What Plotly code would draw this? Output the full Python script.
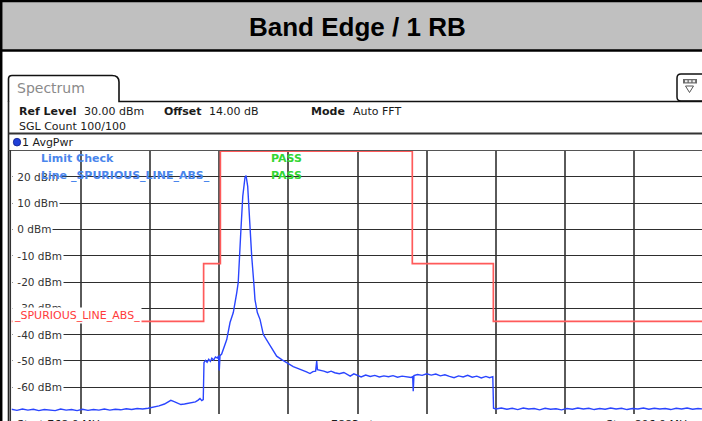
import plotly.graph_objects as go

W, H = 702, 421

# ---------------- data ----------------
start_mhz = 768.0
stop_mhz = 806.0
n_points_label = "7883 pts"

trace_freq_mhz = [
    768.0, 768.3, 768.6, 768.9, 769.2, 769.5, 769.8, 770.1, 770.4, 770.7,
    771.0, 771.3, 771.6, 771.9, 772.2, 772.5, 772.8, 773.1, 773.4, 773.7,
    774.0, 774.3, 774.6, 774.9, 775.2, 775.5, 775.8, 776.1, 776.4, 776.6,
    776.75, 776.9, 777.1, 777.3, 777.5, 777.7, 777.9, 778.1, 778.25, 778.35,
    778.45, 778.53, 778.57, 778.65, 778.74, 778.83, 778.92, 779.0, 779.1, 779.2,
    779.3, 779.37, 779.41, 779.45, 779.54, 779.68, 779.82, 780.0, 780.18, 780.37,
    780.45, 780.59, 780.70, 780.82, 780.88, 780.97, 781.06, 781.19, 781.32, 781.37,
    781.50, 781.65, 781.83, 782.05, 782.29, 782.56, 782.84, 783.11, 783.47, 783.75,
    784.02, 784.2, 784.39, 784.55, 784.7, 784.76, 784.8, 784.94, 785.15, 785.35,
    785.55, 785.75, 786.0, 786.25, 786.45, 786.6, 786.8, 787.0, 787.2, 787.45,
    787.7, 787.95, 788.2, 788.45, 788.7, 788.95, 789.2, 789.45, 789.7, 789.95,
    790.03, 790.06, 790.1, 790.3, 790.55, 790.8, 791.05, 791.3, 791.55, 791.8,
    792.05, 792.3, 792.55, 792.8, 793.05, 793.3, 793.55, 793.8, 794.05, 794.25,
    794.43, 794.47, 794.6, 794.9, 795.2, 795.5, 795.8, 796.1, 796.4, 796.7,
    797.0, 797.3, 797.6, 797.9, 798.2, 798.5, 798.8, 799.1, 799.4, 799.7,
    800.0, 800.3, 800.6, 800.9, 801.2, 801.5, 801.8, 802.1, 802.4, 802.7,
    803.0, 803.3, 803.6, 803.9, 804.2, 804.5, 804.8, 805.1, 805.4, 805.7,
    806.0,
]
trace_dbm = [
    -68.4, -68.8, -68.3, -68.7, -68.4, -68.9, -68.5, -68.6, -68.9, -68.3,
    -68.7, -68.5, -68.9, -68.4, -68.8, -68.5, -68.7, -68.3, -68.7, -68.4,
    -68.6, -68.2, -68.5, -68.1, -68.3, -68.0, -67.6, -67.1, -66.4, -65.6,
    -65.0, -65.4, -66.1, -66.6, -66.4, -66.2, -65.9, -65.6, -64.9, -64.3,
    -65.1, -64.7, -50.6, -49.8, -50.5, -49.4, -50.2, -49.0, -49.7, -48.5,
    -48.9, -48.1, -53.6, -48.0, -47.4, -45.0, -41.9, -35.4, -31.6, -24.0,
    -20.2, -1.2, 12.6, 19.7, 20.5, 16.4, 5.0, -10.2, -21.6, -26.7,
    -31.6, -34.3, -40.0, -42.5, -45.0, -48.2, -49.5, -50.7, -52.2, -52.9,
    -53.5, -54.2, -54.8, -54.1, -53.9, -50.1, -53.3, -53.5, -53.9, -54.4,
    -53.9, -54.5, -54.9, -54.4, -55.3, -55.8, -54.9, -55.6, -56.1, -55.4,
    -55.9, -55.5, -56.1, -55.7, -56.0, -55.6, -56.2, -55.8, -56.0, -56.3,
    -56.0, -61.5, -55.6, -55.2, -55.5, -54.9, -55.4, -55.0, -55.7, -55.3,
    -55.9, -56.4, -55.7, -56.1, -55.5, -56.2, -55.8, -56.5, -55.9, -56.4,
    -56.0, -68.0, -68.3, -67.9, -68.4, -68.0, -68.5, -67.9, -68.3, -68.1,
    -68.6, -68.0, -68.4, -68.2, -68.6, -68.1, -68.4, -67.9, -68.3, -68.0,
    -68.5, -68.1, -68.4, -67.9, -68.3, -68.0, -68.5, -68.1, -68.3, -67.9,
    -68.4, -68.0, -68.3, -68.1, -68.5, -68.0, -68.3, -67.9, -68.4, -68.1,
    -68.3,
]

limit_freq_mhz = [768.0, 778.55, 778.55, 779.47, 779.47, 790.01, 790.01, 794.46, 794.46, 806.0]
limit_dbm = [-35, -35, -13, -13, 29.8, 29.8, -13, -13, -35, -35]

ref_level_dbm = 30
bottom_dbm = -70
y_tick_vals = [20, 10, 0, -10, -20, -30, -40, -50, -60]
y_tick_labels = [f"{v} dBm" for v in y_tick_vals]

title_text = "Band Edge / 1 RB"
tab_text = "Spectrum"
limit_name = "_SPURIOUS_LINE_ABS_"

# ---------------- layout helpers ----------------
def px(x):
    return x / W

def py(y):
    return 1 - y / H

PLOT_L, PLOT_T, PLOT_B = 11.5, 150.5, 413.5
DIV_PX = 69.2
mhz_per_div = (stop_mhz - start_mhz) / 10
x_range_end = start_mhz + (W - PLOT_L) / DIV_PX * mhz_per_div

FONT = "DejaVu Sans"

fig = go.Figure()
fig.add_trace(go.Scatter(x=limit_freq_mhz, y=limit_dbm, mode="lines",
                         line=dict(color="#ff5a5a", width=1.7), hoverinfo="skip"))
fig.add_trace(go.Scatter(x=trace_freq_mhz, y=trace_dbm, mode="lines",
                         line=dict(color="#2a45ff", width=1.4), hoverinfo="skip"))

shapes = []
def rect(x0, y0, x1, y1, fill, line_color=None, lw=0, layer="above"):
    shapes.append(dict(type="rect", xref="paper", yref="paper",
                       x0=px(x0), x1=px(x1), y0=py(y1), y1=py(y0),
                       fillcolor=fill, line=dict(color=line_color or fill, width=lw),
                       layer=layer))

def line(x0, y0, x1, y1, color, lw):
    shapes.append(dict(type="line", xref="paper", yref="paper",
                       x0=px(x0), x1=px(x1), y0=py(y0), y1=py(y1),
                       line=dict(color=color, width=lw), layer="above"))

# title bar
rect(0, 2, W, 50, "#c0c0c0")
line(0, 1, W, 1, "#000", 2.5)
line(0, 50.5, W, 50.5, "#000", 2.5)
line(1.2, 0, 1.2, H, "#000", 2.5)

# spectrum tab (rounded top right)
def P(x, y):
    return f"{px(x)},{py(y)}"
tab_path = (f"M {P(8.5,101.5)} L {P(8.5,79)} Q {P(8.5,75.5)} {P(12,75.5)} "
            f"L {P(112,75.5)} Q {P(119,75.5)} {P(119,82)} L {P(119,101.5)} L {P(W,101.5)}")
shapes.append(dict(type="path", xref="paper", yref="paper", path=tab_path,
                   line=dict(color="#111", width=1.6), layer="above"))
line(8.5, 101, 8.5, H, "#222", 1.6)
line(8.5, 133.5, W, 133.5, "#333", 2)
line(8.5, 150.5, W, 150.5, "#555", 1)
line(10.3, 150, 10.3, H, "#333", 1.5)

# icon top right
icon_path = (f"M {P(W+2,101)} L {P(681,101)} Q {P(677,101)} {P(677,97)} L {P(677,78)} "
             f"Q {P(677,74)} {P(681,74)} L {P(W+2,74)}")
shapes.append(dict(type="path", xref="paper", yref="paper", path=icon_path,
                   line=dict(color="#111", width=1.5), layer="above"))
rect(683, 79, 697, 83.5, "#6a6a6a")
rect(685, 80.2, 687.5, 82.3, "#eeeeee")
rect(688.8, 80.2, 691.3, 82.3, "#eeeeee")
rect(692.6, 80.2, 695.1, 82.3, "#eeeeee")
shapes.append(dict(type="path", xref="paper", yref="paper",
                   path=f"M {P(685.5,86)} L {P(693.5,86)} L {P(689.5,92.5)} Z",
                   line=dict(color="#555", width=1), fillcolor="white", layer="above"))

# AvgPwr dot
shapes.append(dict(type="circle", xref="paper", yref="paper",
                   x0=px(13.3), x1=px(20.7), y0=py(146), y1=py(138.3),
                   fillcolor="#1f3fd8", line=dict(color="#10208a", width=0.8), layer="above"))

ann = []
def txt(x, y, s, size=11, color="#1a1a1a", bold=False, anchor="left", family=FONT,
        bg=None, yref="paper", height=None, pad=0):
    d = dict(xref="paper", yref=yref, x=px(x), y=(py(y) if yref == "paper" else y),
             text=s, showarrow=False, xanchor=anchor, yanchor="middle",
             font=dict(family=family, size=size, color=color,
                       weight=("bold" if bold else "normal")),
             borderpad=pad)
    if bg:
        d["bgcolor"] = bg
    if height:
        d["height"] = height
    ann.append(d)

txt(357, 27.5, title_text, size=26, color="#000", bold=True, anchor="center",
    family="Liberation Sans, Arial")
txt(16, 88, tab_text, size=14, color="#8a8a8a")

txt(17.5, 111, "Ref Level", bold=True)
txt(82.5, 111, f"{ref_level_dbm:.2f} dBm")
txt(162.5, 111, "Offset", bold=True)
txt(207.5, 111, "14.00 dB")
txt(309.5, 111, "Mode", bold=True)
txt(351.5, 111, "Auto FFT")
txt(17.5, 126, "SGL Count 100/100")
txt(20.5, 142, "1 AvgPwr")

# y-axis labels inside the grid (white box hides the gridline behind them)
for v, lab in zip(y_tick_vals, y_tick_labels):
    txt(11.8, v, "&nbsp;" + lab, size=10.5, color="#333", bg="white", yref="y", pad=1)

# limit check texts
txt(39.5, 158.5, "Limit Check", size=11, color="#4a86ec", bold=True)
txt(39.5, 175.5, "Line " + limit_name, size=11, color="#4a86ec", bold=True)
txt(270, 158.5, "PASS", size=11, color="#33d633", bold=True)
txt(270, 175.5, "PASS", size=11, color="#33d633", bold=True)
txt(11.8, 315, limit_name, size=11, color="#ff3b3b", bg="white", height=13, pad=1)

# bottom (cut off) labels
txt(15.5, 424, f"Start {start_mhz:.1f} MHz", size=11)
txt(355, 424, n_points_label, size=11, anchor="center")
txt(694, 424, f"Stop {stop_mhz:.1f} MHz", size=11, anchor="right")

fig.update_layout(
    width=W, height=H, autosize=False,
    margin=dict(l=0, r=0, t=0, b=0, pad=0),
    paper_bgcolor="white", plot_bgcolor="white",
    showlegend=False,
    shapes=shapes, annotations=ann,
    xaxis=dict(domain=[px(PLOT_L), 1], range=[start_mhz, x_range_end],
               showgrid=True, gridcolor="#5a5a5a", gridwidth=1.8,
               tick0=start_mhz, dtick=mhz_per_div, showticklabels=False,
               zeroline=False, showline=False, ticks="", fixedrange=True),
    yaxis=dict(domain=[py(PLOT_B), py(PLOT_T)], range=[bottom_dbm, ref_level_dbm],
               showgrid=True, gridcolor="#2e2e2e", gridwidth=1.4,
               tick0=0, dtick=10, showticklabels=False,
               zeroline=False, showline=False, ticks="", fixedrange=True),
)

fig.write_html("out.html", config={"displayModeBar": False},
               post_script="document.body.style.margin='0';document.body.style.overflow='hidden';")
